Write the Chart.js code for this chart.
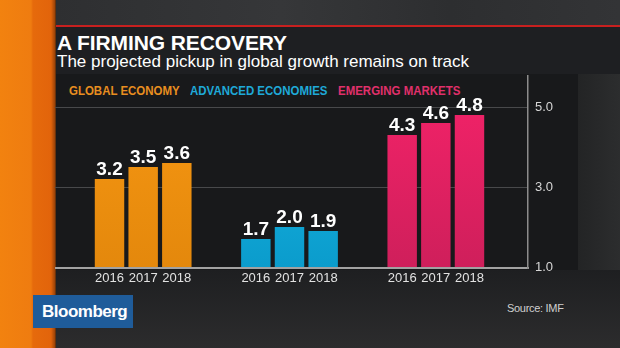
<!DOCTYPE html>
<html>
<head>
<meta charset="utf-8">
<script src="https://cdn.jsdelivr.net/npm/chart.js@4"></script>
<style>
  html, body { margin: 0; padding: 0; }
  body { width: 620px; height: 348px; overflow: hidden; position: relative; background: #242527; font-family: "Liberation Sans", Arial, sans-serif; }
  .bg-top { position: absolute; left: 55px; top: 0; width: 565px; height: 25px; background: linear-gradient(to right, #2e2f31, #363739 40%, #2d2e30 70%, #333436); }
  .red-line { position: absolute; left: 53px; top: 25px; width: 567px; height: 2px; background: #c8201f; }
  .title-box { position: absolute; left: 53px; top: 27px; width: 567px; height: 47px; background: #1e1f22; }
  .panel { position: absolute; left: 53px; top: 74px; width: 525px; height: 196px; background: #18191b; }
  .bg-bottom { position: absolute; left: 55px; top: 270px; width: 565px; height: 78px; background: linear-gradient(to bottom, #1e1f21, #2c2c2d); }
  .bg-right { position: absolute; left: 578px; top: 74px; width: 42px; height: 196px; background: linear-gradient(to right, #232425, #2c2d2e); }
  .stripe { position: absolute; left: 0; top: 0; width: 56px; height: 348px; background: linear-gradient(to right, #f2820f 0, #ef7c10 31px, #e66a0c 33px, #e2640b 51px, #9a4208 55px, #3a2410 56px); }
  .title { position: absolute; left: 57px; top: 31px; color: #fff; font-weight: bold; font-size: 21px; letter-spacing: -0.1px; white-space: nowrap; }
  .subtitle { position: absolute; left: 57px; top: 52px; color: #fff; font-size: 17px; white-space: nowrap; }
  .cats { position: absolute; top: 83px; left: 0; font-weight: bold; font-size: 13.5px; white-space: nowrap; }
  .cats span { position: absolute; top: 0; transform: scaleX(0.85); transform-origin: 0 50%; }
  .logo { position: absolute; left: 33px; top: 295px; width: 100px; height: 33px; background: #1f5c9a; color: #fff; font-weight: bold; font-size: 17px; letter-spacing: -0.5px; line-height: 33px; box-sizing: border-box; padding-left: 9px; }
  .source { position: absolute; left: 507px; top: 302px; color: #cfcfcf; font-size: 11px; letter-spacing: -0.3px; }
  canvas { position: absolute; left: 0; top: 0; }
</style>
</head>
<body>
<div class="bg-top"></div>
<div class="red-line"></div>
<div class="title-box"></div>
<div class="panel"></div>
<div class="bg-bottom"></div>
<div class="bg-right"></div>
<div class="stripe"></div>
<div class="title">A FIRMING RECOVERY</div>
<div class="subtitle">The projected pickup in global growth remains on track</div>
<div class="cats" id="cats"></div>
<div class="logo">Bloomberg</div>
<div class="source">Source: IMF</div>
<canvas id="chart" width="620" height="348"></canvas>
<script>
// data
const categories = ['GLOBAL ECONOMY', 'ADVANCED ECONOMIES', 'EMERGING MARKETS'];
const years = ['2016', '2017', '2018'];
const values2016 = [3.2, 1.7, 4.3];
const values2017 = [3.5, 2.0, 4.6];
const values2018 = [3.6, 1.9, 4.8];
const yTicks = [1.0, 3.0, 5.0];

// group colours, top and bottom of the gradient
const topColors = ['#f59612', '#18b6e4', '#ef2267'];
const bottomColors = ['#e4880c', '#0b9ccc', '#cf1f5b'];
const labelColors = ['#e88e20', '#1fa9d8', '#e0306b'];
const catLeft = [69, 190, 338];

// category labels across the top of the panel
const catsEl = document.getElementById('cats');
categories.forEach((name, i) => {
  const s = document.createElement('span');
  s.textContent = name;
  s.style.left = catLeft[i] + 'px';
  s.style.color = labelColors[i];
  catsEl.appendChild(s);
});

function barFill(context) {
  const chart = context.chart;
  const area = chart.chartArea;
  const i = context.dataIndex;
  if (!area) return topColors[i];
  const g = chart.ctx.createLinearGradient(0, area.top, 0, area.bottom);
  g.addColorStop(0, topColors[i]);
  g.addColorStop(1, bottomColors[i]);
  return g;
}

// grid lines, baseline, right axis line, value and year labels
const framePlugin = {
  id: 'frame',
  beforeDatasetsDraw(chart) {
    const ctx = chart.ctx;
    const y = chart.scales.y;
    ctx.save();
    ctx.strokeStyle = '#48494b';
    ctx.lineWidth = 1;
    y.ticks.forEach(t => {
      if (t.value === y.min) return;
      const py = Math.round(y.getPixelForValue(t.value)) + 0.5;
      ctx.beginPath();
      ctx.moveTo(55, py);
      ctx.lineTo(528, py);
      ctx.stroke();
    });
    ctx.restore();
  },
  afterDatasetsDraw(chart) {
    const ctx = chart.ctx;
    const y = chart.scales.y;
    const base = Math.round(y.getPixelForValue(y.min));
    ctx.save();
    ctx.fillStyle = '#a2a2a2';
    ctx.fillRect(55, base, 474, 2);
    ctx.fillStyle = '#8c8c8c';
    ctx.fillRect(527, 75, 1.5, base - 73);

    chart.data.datasets.forEach((ds, di) => {
      const meta = chart.getDatasetMeta(di);
      meta.data.forEach((bar, i) => {
        ctx.fillStyle = '#ffffff';
        ctx.font = 'bold 19px "Liberation Sans", Arial, sans-serif';
        ctx.textAlign = 'center';
        ctx.textBaseline = 'alphabetic';
        ctx.fillText(ds.data[i].toFixed(1), bar.x, bar.y - 4);
        ctx.fillStyle = '#e2e2e2';
        ctx.font = '13px "Liberation Sans", Arial, sans-serif';
        ctx.textBaseline = 'middle';
        ctx.fillText(ds.label, bar.x, base + 11);
      });
    });
    ctx.restore();
  }
};

const chart = new Chart(document.getElementById('chart'), {
  type: 'bar',
  data: {
    labels: categories,
    datasets: [
      { label: years[0], data: values2016, backgroundColor: barFill },
      { label: years[1], data: values2017, backgroundColor: barFill },
      { label: years[2], data: values2018, backgroundColor: barFill }
    ]
  },
  options: {
    responsive: false,
    animation: false,
    devicePixelRatio: 1,
    categoryPercentage: 0.69,
    barPercentage: 0.875,
    layout: { padding: { left: 70, top: 107, right: 0, bottom: 81 } },
    plugins: { legend: { display: false }, tooltip: { enabled: false } },
    scales: {
      x: { display: false },
      y: {
        position: 'right',
        min: 1,
        max: 5,
        afterBuildTicks: s => { s.ticks = yTicks.map(v => ({ value: v })); },
        afterFit: s => { s.width = 111; },
        grid: { display: false, drawTicks: false },
        border: { display: false },
        ticks: {
          color: '#d6d6d6',
          padding: 26,
          font: { family: '"Liberation Sans", Arial, sans-serif', size: 13 },
          callback: v => v.toFixed(1)
        }
      }
    }
  },
  plugins: [framePlugin]
});
</script>
</body>
</html>
